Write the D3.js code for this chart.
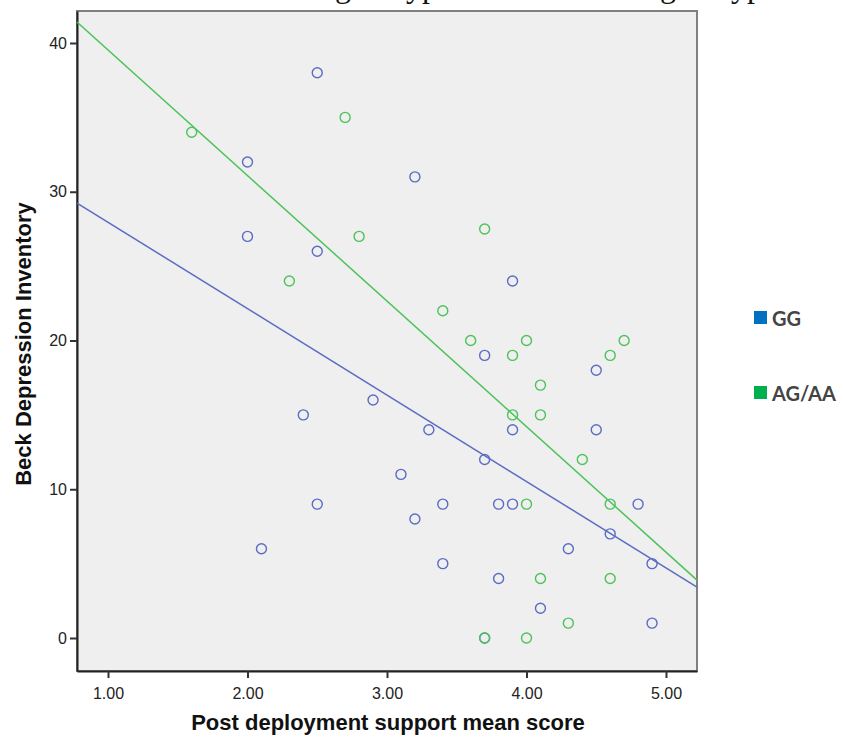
<!DOCTYPE html>
<html>
<head>
<meta charset="utf-8">
<script src="https://cdn.jsdelivr.net/npm/d3@7"></script>
<style>
  html, body { margin: 0; padding: 0; background: white; }
</style>
</head>
<body>
<div id="chart"></div>
<script>
// GG group (blue)
const ggSupport = [2.5, 2.0, 3.2, 2.0, 2.5, 3.9, 3.7, 4.5, 2.9, 2.4, 3.3, 3.9, 4.5, 3.7, 3.1,
  2.5, 3.4, 3.8, 3.9, 4.8, 3.2, 4.6, 2.1, 4.3, 3.4, 4.9, 3.8, 4.1, 4.9, 3.7];
const ggBDI = [38, 32, 31, 27, 26, 24, 19, 18, 16, 15, 14, 14, 14, 12, 11,
  9, 9, 9, 9, 9, 8, 7, 6, 6, 5, 5, 4, 2, 1, 0];

// AG/AA group (green)
const agSupport = [1.6, 2.7, 2.8, 3.7, 2.3, 3.4, 3.6, 4.0, 4.7, 3.9, 4.6, 4.1, 3.9, 4.1,
  4.4, 4.0, 4.6, 4.1, 4.6, 4.3, 3.7, 4.0];
const agBDI = [34, 35, 27, 27.5, 24, 22, 20, 20, 20, 19, 19, 17, 15, 15,
  12, 9, 9, 4, 4, 1, 0, 0];

// fit lines: [intercept, slope]
const ggFit = [33.76, -5.81];
const agFit = [47.97, -8.44];

const groups = ["GG", "AG/AA"];
const xTicks = [1, 2, 3, 4, 5];
const yTicks = [0, 10, 20, 30, 40];

const W = 843, H = 740;
const plot = { left: 77, top: 11, right: 697, bottom: 671 };

const svg = d3.select("#chart").append("svg")
  .attr("width", W)
  .attr("height", H);

// 被裁掉的标题（只剩下行笔画）
const capt = svg.append("g")
  .attr("font-family", "'Liberation Serif', 'Times New Roman', serif")
  .attr("font-size", 32)
  .attr("fill", "#111");
capt.append("text").attr("x", 335).attr("y", -3).text("genotype");
capt.append("text").attr("x", 660).attr("y", -3).text("genotype");

const x = d3.scaleLinear()
  .domain([1 - 31 / 139.5, 5 + 31 / 139.5])
  .range([plot.left, plot.right]);

const y = d3.scaleLinear()
  .domain([(638 - 671) / 14.875, (638 - 11) / 14.875])
  .range([plot.bottom, plot.top]);

const color = d3.scaleOrdinal()
  .domain(groups)
  .range(["#5a6cc4", "#4cc35a"]);

const legendColor = d3.scaleOrdinal()
  .domain(groups)
  .range(["#0070c0", "#00b050"]);

// 绘图区背景
svg.append("rect")
  .attr("x", plot.left)
  .attr("y", plot.top)
  .attr("width", plot.right - plot.left)
  .attr("height", plot.bottom - plot.top)
  .attr("fill", "#efefef")
  .attr("stroke", "#808080")
  .attr("stroke-width", 2);

// fragment hidden behind the frame on the right
svg.append("clipPath").attr("id", "fragClip")
  .append("rect").attr("x", plot.right + 1).attr("y", 140).attr("width", 6).attr("height", 30);
svg.append("text")
  .attr("clip-path", "url(#fragClip)")
  .attr("x", 682)
  .attr("y", 166)
  .attr("font-family", "'Liberation Serif', serif")
  .attr("font-size", 30)
  .attr("fill", "#111")
  .text("2");

svg.append("clipPath").attr("id", "plotClip")
  .append("rect")
  .attr("x", plot.left)
  .attr("y", plot.top)
  .attr("width", plot.right - plot.left)
  .attr("height", plot.bottom - plot.top);

// axes
const xAxis = svg.append("g")
  .attr("transform", `translate(0,${plot.bottom})`)
  .call(d3.axisBottom(x).tickValues(xTicks).tickFormat(d3.format(".2f")).tickSize(7).tickSizeOuter(0));

const yAxis = svg.append("g")
  .attr("transform", `translate(${plot.left},0)`)
  .call(d3.axisLeft(y).tickValues(yTicks).tickFormat(d3.format("d")).tickSize(7).tickSizeOuter(0));

[xAxis, yAxis].forEach(ax => {
  ax.select(".domain").attr("stroke", "#222").attr("stroke-width", 2);
  ax.selectAll(".tick line").attr("stroke", "#333").attr("stroke-width", 2);
  ax.selectAll(".tick text")
    .attr("font-family", "'Liberation Sans', Arial, sans-serif")
    .attr("font-size", 16)
    .attr("fill", "#222");
});
xAxis.selectAll(".tick text").attr("dy", "1.1em");
yAxis.selectAll(".tick text").attr("x", -10);

// regression lines
const fits = [ggFit, agFit];
svg.append("g")
  .attr("clip-path", "url(#plotClip)")
  .selectAll("line")
  .data(fits)
  .enter()
  .append("line")
  .attr("x1", x(x.domain()[0]))
  .attr("x2", x(x.domain()[1]))
  .attr("y1", d => y(d[0] + d[1] * x.domain()[0]))
  .attr("y2", d => y(d[0] + d[1] * x.domain()[1]))
  .attr("stroke", (d, i) => color(groups[i]))
  .attr("stroke-width", 1.5);

// points
const pts = ggSupport.map((v, i) => ({ x: v, y: ggBDI[i], g: "GG" }))
  .concat(agSupport.map((v, i) => ({ x: v, y: agBDI[i], g: "AG/AA" })));

svg.append("g")
  .selectAll("circle")
  .data(pts)
  .enter()
  .append("circle")
  .attr("cx", d => x(d.x))
  .attr("cy", d => y(d.y))
  .attr("r", 5)
  .attr("fill", "none")
  .attr("stroke", d => color(d.g))
  .attr("stroke-width", 1.4);

// axis titles
svg.append("text")
  .attr("x", (plot.left + plot.right) / 2 + 1)
  .attr("y", 730)
  .attr("text-anchor", "middle")
  .attr("font-family", "'Liberation Sans', Arial, sans-serif")
  .attr("font-weight", "bold")
  .attr("font-size", 22)
  .attr("fill", "#111")
  .text("Post deployment support mean score");

svg.append("text")
  .attr("transform", "translate(31,344) rotate(-90)")
  .attr("text-anchor", "middle")
  .attr("font-family", "'Liberation Sans', Arial, sans-serif")
  .attr("font-weight", "bold")
  .attr("font-size", 22)
  .attr("fill", "#111")
  .text("Beck Depression Inventory");

// legend
const legend = svg.append("g")
  .selectAll("g")
  .data(groups)
  .enter()
  .append("g")
  .attr("transform", (d, i) => `translate(754,${311 + i * 75})`);

legend.append("rect")
  .attr("width", 13)
  .attr("height", 13)
  .attr("fill", d => legendColor(d));

legend.append("text")
  .attr("x", 18)
  .attr("y", 15)
  .attr("font-family", "Lato, 'Open Sans', sans-serif")
  .attr("font-weight", "bold")
  .attr("font-size", 20)
  .attr("fill", "#444")
  .text(d => d);
</script>
</body>
</html>
